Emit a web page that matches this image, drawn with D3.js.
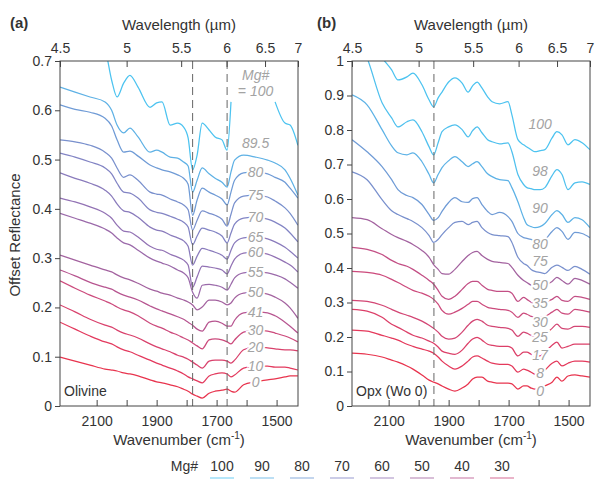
<!DOCTYPE html>
<html>
<head>
<meta charset="utf-8">
<title>Offset reflectance spectra</title>
<script src="https://cdn.jsdelivr.net/npm/d3@7"></script>
<style>
  body { margin: 0; background: #fff; }
  text { font-family: "Liberation Sans", Arial, sans-serif; fill: #333; }
  .axis line { stroke: #444; }
  .axis text { font-size: 14px; fill: #333; }
  .title { font-size: 15px; }
  .curve-label { font-size: 14px; font-style: italic; fill: #a3a3a3; stroke: #fff; stroke-width: 4px; paint-order: stroke; }
</style>
</head>
<body>
<div id="chart"></div>
<script>
// wavenumber grids (cm-1)
const wnOlivine = [2222, 2172, 2122, 2072, 2050, 2032, 2010, 1989, 1962, 1922, 1900, 1882, 1855, 1830, 1810, 1795,
  1780, 1765, 1748, 1725, 1705, 1682, 1665, 1652, 1640, 1610, 1570, 1530, 1505, 1472, 1455, 1429];
const wnOpx = [2222, 2172, 2122, 2090, 2069, 2039, 2019, 1989, 1965, 1950, 1935, 1922, 1900, 1879, 1855, 1835,
  1820, 1805, 1789, 1770, 1755, 1730, 1702, 1689, 1669, 1650, 1639, 1625, 1612, 1595, 1579, 1555, 1539, 1522,
  1502, 1479, 1455, 1429];

// olivine, offset reflectance
const olv100 = [0.80, 0.79, 0.77, 0.725, 0.661, 0.627, 0.655, 0.671, 0.647, 0.606, 0.615, 0.617, 0.570, 0.574, 0.566, 0.544, 0.479, 0.509, 0.574, 0.560, 0.546, 0.540, 0.519, 0.617, null, null, null, null, 0.617, 0.574, 0.570, 0.529];
const olv89 = [0.647, 0.637, 0.627, 0.617, 0.600, 0.570, 0.554, 0.564, 0.546, 0.515, 0.519, 0.515, 0.505, 0.503, 0.495, 0.487, 0.434, 0.458, 0.483, 0.471, 0.462, 0.454, 0.444, 0.475, 0.499, 0.509, 0.505, 0.499, 0.493, 0.479, 0.462, 0.428];
const olv80 = [0.611, 0.602, 0.596, 0.584, 0.568, 0.540, 0.515, 0.517, 0.507, 0.489, 0.483, 0.479, 0.475, 0.469, 0.462, 0.450, 0.387, 0.418, 0.442, 0.434, 0.428, 0.420, 0.408, 0.434, 0.458, 0.473, 0.475, 0.471, 0.464, 0.454, 0.442, 0.422];
const olv75 = [0.540, 0.536, 0.529, 0.515, 0.503, 0.483, 0.464, 0.469, 0.458, 0.434, 0.430, 0.428, 0.420, 0.414, 0.408, 0.398, 0.357, 0.377, 0.396, 0.391, 0.387, 0.379, 0.365, 0.389, 0.412, 0.426, 0.428, 0.424, 0.416, 0.402, 0.391, 0.367];
const olv70 = [0.513, 0.505, 0.495, 0.483, 0.471, 0.452, 0.434, 0.432, 0.422, 0.398, 0.393, 0.391, 0.385, 0.379, 0.373, 0.363, 0.327, 0.345, 0.361, 0.357, 0.353, 0.345, 0.331, 0.351, 0.369, 0.381, 0.383, 0.379, 0.373, 0.361, 0.351, 0.333];
const olv65 = [0.473, 0.462, 0.452, 0.438, 0.426, 0.410, 0.396, 0.393, 0.383, 0.363, 0.357, 0.355, 0.347, 0.341, 0.335, 0.324, 0.286, 0.304, 0.320, 0.316, 0.312, 0.306, 0.298, 0.316, 0.331, 0.341, 0.343, 0.339, 0.333, 0.322, 0.314, 0.300];
const olv60 = [0.422, 0.414, 0.404, 0.391, 0.381, 0.367, 0.355, 0.353, 0.343, 0.324, 0.318, 0.316, 0.308, 0.302, 0.296, 0.286, 0.241, 0.262, 0.284, 0.282, 0.280, 0.276, 0.268, 0.284, 0.298, 0.310, 0.312, 0.308, 0.302, 0.292, 0.286, 0.272];
const olv55 = [0.391, 0.381, 0.371, 0.359, 0.351, 0.341, 0.331, 0.327, 0.316, 0.300, 0.294, 0.290, 0.284, 0.276, 0.270, 0.260, 0.231, 0.219, 0.245, 0.247, 0.245, 0.241, 0.235, 0.247, 0.260, 0.270, 0.272, 0.270, 0.266, 0.258, 0.251, 0.239];
const olv50 = [0.306, 0.296, 0.286, 0.276, 0.272, 0.266, 0.260, 0.256, 0.249, 0.237, 0.233, 0.229, 0.225, 0.219, 0.215, 0.211, 0.205, 0.195, 0.201, 0.215, 0.215, 0.211, 0.205, 0.209, 0.219, 0.229, 0.231, 0.227, 0.221, 0.209, 0.199, 0.178];
const olv41 = [0.276, 0.264, 0.251, 0.241, 0.237, 0.231, 0.225, 0.221, 0.215, 0.203, 0.197, 0.193, 0.187, 0.181, 0.176, 0.170, 0.164, 0.156, 0.152, 0.170, 0.172, 0.168, 0.162, 0.162, 0.174, 0.189, 0.191, 0.189, 0.183, 0.170, 0.162, 0.148];
const olv30 = [0.254, 0.239, 0.225, 0.213, 0.207, 0.201, 0.195, 0.191, 0.183, 0.168, 0.162, 0.158, 0.150, 0.144, 0.138, 0.134, 0.128, 0.122, 0.116, 0.134, 0.136, 0.134, 0.130, 0.126, 0.134, 0.150, 0.154, 0.152, 0.148, 0.142, 0.138, 0.130];
const olv20 = [0.205, 0.191, 0.176, 0.164, 0.160, 0.154, 0.148, 0.144, 0.138, 0.126, 0.120, 0.116, 0.110, 0.103, 0.099, 0.095, 0.089, 0.083, 0.077, 0.091, 0.093, 0.093, 0.091, 0.087, 0.093, 0.114, 0.120, 0.118, 0.116, 0.114, 0.114, 0.112];
const olv10 = [0.170, 0.156, 0.142, 0.130, 0.126, 0.120, 0.114, 0.110, 0.103, 0.093, 0.087, 0.083, 0.077, 0.071, 0.065, 0.059, 0.055, 0.051, 0.047, 0.061, 0.065, 0.067, 0.065, 0.059, 0.063, 0.077, 0.081, 0.081, 0.079, 0.079, 0.077, 0.073];
const olv0 = [0.099, 0.091, 0.083, 0.075, 0.073, 0.071, 0.067, 0.065, 0.061, 0.053, 0.049, 0.047, 0.043, 0.039, 0.034, 0.030, 0.024, 0.020, 0.016, 0.026, 0.030, 0.032, 0.034, 0.030, 0.028, 0.043, 0.049, 0.053, 0.055, 0.059, 0.061, 0.061];

// orthopyroxene (Wo 0), offset reflectance
const opx100 = [1.147, 1.075, 1.009, 0.974, 0.945, 0.954, 0.965, 0.931, 0.887, 0.867, 0.893, 0.910, 0.939, 0.951, 0.936, 0.910, 0.928, 0.939, 0.922, 0.896, 0.882, 0.876, 0.882, 0.844, 0.772, 0.757, 0.751, 0.743, 0.737, 0.740, 0.743, 0.777, 0.795, 0.786, 0.757, 0.772, 0.763, 0.743];
const opx98 = [1.090, 1.009, 0.879, 0.835, 0.809, 0.824, 0.829, 0.795, 0.751, 0.728, 0.763, 0.795, 0.809, 0.815, 0.801, 0.780, 0.798, 0.809, 0.792, 0.772, 0.766, 0.760, 0.763, 0.737, 0.671, 0.642, 0.633, 0.630, 0.627, 0.627, 0.633, 0.668, 0.685, 0.671, 0.627, 0.647, 0.650, 0.642];
const opx90 = [0.902, 0.873, 0.801, 0.754, 0.734, 0.728, 0.734, 0.708, 0.671, 0.647, 0.671, 0.691, 0.711, 0.723, 0.708, 0.694, 0.702, 0.708, 0.694, 0.673, 0.665, 0.656, 0.653, 0.633, 0.592, 0.546, 0.526, 0.520, 0.517, 0.520, 0.529, 0.555, 0.566, 0.555, 0.532, 0.546, 0.540, 0.517];
const opx80 = [0.772, 0.737, 0.694, 0.656, 0.627, 0.610, 0.604, 0.584, 0.555, 0.538, 0.546, 0.564, 0.590, 0.604, 0.592, 0.590, 0.601, 0.604, 0.584, 0.564, 0.555, 0.561, 0.549, 0.535, 0.500, 0.488, 0.486, 0.483, 0.480, 0.480, 0.483, 0.506, 0.517, 0.506, 0.483, 0.503, 0.500, 0.488];
const opx75 = [0.679, 0.656, 0.598, 0.566, 0.555, 0.543, 0.535, 0.517, 0.494, 0.474, 0.483, 0.497, 0.517, 0.532, 0.535, 0.526, 0.532, 0.535, 0.517, 0.503, 0.497, 0.494, 0.491, 0.474, 0.431, 0.413, 0.408, 0.396, 0.390, 0.387, 0.384, 0.402, 0.408, 0.402, 0.393, 0.405, 0.396, 0.382];
const opx50 = [0.546, 0.540, 0.514, 0.497, 0.488, 0.477, 0.468, 0.451, 0.431, 0.410, 0.396, 0.384, 0.382, 0.396, 0.419, 0.436, 0.445, 0.448, 0.436, 0.425, 0.419, 0.416, 0.413, 0.402, 0.379, 0.364, 0.358, 0.350, 0.344, 0.344, 0.350, 0.361, 0.373, 0.364, 0.353, 0.370, 0.364, 0.353];
const opx35 = [0.460, 0.454, 0.439, 0.422, 0.413, 0.405, 0.396, 0.379, 0.364, 0.353, 0.335, 0.318, 0.309, 0.318, 0.338, 0.355, 0.361, 0.361, 0.350, 0.338, 0.335, 0.332, 0.332, 0.327, 0.303, 0.315, 0.309, 0.301, 0.295, 0.295, 0.301, 0.309, 0.318, 0.306, 0.303, 0.318, 0.315, 0.309];
const opx30 = [0.390, 0.387, 0.379, 0.367, 0.358, 0.344, 0.335, 0.327, 0.318, 0.309, 0.295, 0.277, 0.266, 0.272, 0.283, 0.295, 0.303, 0.303, 0.295, 0.286, 0.283, 0.280, 0.277, 0.272, 0.257, 0.269, 0.266, 0.260, 0.257, 0.257, 0.260, 0.272, 0.280, 0.269, 0.266, 0.280, 0.277, 0.272];
const opx25 = [0.306, 0.303, 0.292, 0.280, 0.272, 0.263, 0.257, 0.246, 0.234, 0.225, 0.214, 0.202, 0.194, 0.197, 0.214, 0.234, 0.246, 0.251, 0.246, 0.234, 0.231, 0.228, 0.225, 0.220, 0.202, 0.214, 0.211, 0.205, 0.202, 0.202, 0.208, 0.225, 0.237, 0.225, 0.223, 0.231, 0.231, 0.228];
const opx17 = [0.280, 0.275, 0.257, 0.237, 0.228, 0.214, 0.205, 0.197, 0.188, 0.182, 0.171, 0.159, 0.153, 0.150, 0.162, 0.182, 0.194, 0.199, 0.191, 0.179, 0.176, 0.173, 0.173, 0.168, 0.145, 0.156, 0.156, 0.150, 0.145, 0.145, 0.156, 0.176, 0.185, 0.168, 0.173, 0.179, 0.179, 0.179];
const opx8 = [0.220, 0.217, 0.205, 0.197, 0.191, 0.179, 0.173, 0.165, 0.159, 0.153, 0.142, 0.130, 0.116, 0.107, 0.116, 0.130, 0.142, 0.145, 0.139, 0.130, 0.124, 0.121, 0.121, 0.116, 0.098, 0.107, 0.104, 0.098, 0.092, 0.092, 0.104, 0.124, 0.130, 0.116, 0.124, 0.130, 0.130, 0.127];
const opx0 = [0.153, 0.150, 0.142, 0.133, 0.127, 0.116, 0.107, 0.090, 0.075, 0.069, 0.064, 0.058, 0.049, 0.043, 0.052, 0.064, 0.078, 0.084, 0.084, 0.072, 0.069, 0.066, 0.066, 0.064, 0.049, 0.058, 0.058, 0.052, 0.049, 0.049, 0.058, 0.069, 0.084, 0.072, 0.087, 0.090, 0.087, 0.084];

const mgOlivine = [100, 89.5, 80, 75, 70, 65, 60, 55, 50, 41, 30, 20, 10, 0];
const mgOpx = [100, 98, 90, 80, 75, 50, 35, 30, 25, 17, 8, 0];
const labelsOlivine = ["100", "89.5", "80", "75", "70", "65", "60", "55", "50", "41", "30", "20", "10", "0"];
const labelsOpx = ["100", "98", "90", "80", "75", "50", "35", "30", "25", "17", "8", "0"];

// band positions marked with dashed lines (cm-1)
const dashOlivine = [1780, 1665];
const dashOpx = [1949];

// axis ticks
const wnTicks = [2100, 2000, 1900, 1800, 1700, 1600, 1500];
const wnLabelled = [2100, 1900, 1700, 1500];
const wlTicks = [4.5, 5, 5.5, 6, 6.5, 7];
const yTicksA = [0, 0.1, 0.2, 0.3, 0.4, 0.5, 0.6, 0.7];
const yTicksB = [0, 0.1, 0.2, 0.3, 0.4, 0.5, 0.6, 0.7, 0.8, 0.9, 1];
const legendMg = [100, 90, 80, 70, 60, 50, 40, 30];

var width = 598, height = 485, plotTop = 61, plotBottom = 406;

// hand nudges (px) for labels that sit off their curve
var labelNudge = {a: {"89.5": -14}, b: {"100": -8, "80": 10, "50": 5, "30": 3}};

var mgColor = d3.scaleLinear()
    .domain([0, 10, 20, 30, 40, 50, 60, 70, 80, 90, 100])
    .range(["#e8344e", "#e33a5e", "#d9416c", "#cc4a7c", "#b9548e", "#a3629f", "#9272b4", "#8284c4", "#6f9bd6", "#5db2e6", "#4cc3f0"]);

var svg = d3.select("#chart").append("svg")
    .attr("width", width)
    .attr("height", height);

var olivine = [olv100, olv89, olv80, olv75, olv70, olv65, olv60, olv55, olv50, olv41, olv30, olv20, olv10, olv0]
    .map(function (v, i) { return {mg: mgOlivine[i], label: labelsOlivine[i], values: v}; });
var opx = [opx100, opx98, opx90, opx80, opx75, opx50, opx35, opx30, opx25, opx17, opx8, opx0]
    .map(function (v, i) { return {mg: mgOpx[i], label: labelsOpx[i], values: v}; });

function drawPanel(p) {
    var x = d3.scaleLinear().domain([1e4 / 4.5, 1e4 / 7]).range([p.left, p.right]);
    var y = d3.scaleLinear().domain([0, p.ymax]).range([plotBottom, plotTop]);
    var g = svg.append("g");

    g.append("clipPath").attr("id", "clip-" + p.id)
        .append("rect")
        .attr("x", p.left).attr("y", plotTop)
        .attr("width", p.right - p.left).attr("height", plotBottom - plotTop);

    var line = d3.line()
        .defined(function (d) { return d[1] != null; })
        .x(function (d) { return x(d[0]); })
        .y(function (d) { return y(d[1]); })
        .curve(d3.curveMonotoneX);

    g.append("g")
        .attr("clip-path", "url(#clip-" + p.id + ")")
        .selectAll("path")
        .data(p.series)
        .join("path")
        .attr("d", function (s) { return line(p.wn.map(function (w, i) { return [w, s.values[i]]; })); })
        .attr("fill", "none")
        .attr("stroke", function (s) { return mgColor(s.mg); })
        .attr("stroke-width", 1.25);

    // curve labels
    var nudge = labelNudge[p.id];
    g.append("g").selectAll("text")
        .data(p.series.filter(function (s, i) { return i > 0 || p.id === "b"; }))
        .join("text")
        .attr("class", "curve-label")
        .attr("text-anchor", "middle")
        .attr("dominant-baseline", "central")
        .attr("x", x(p.wn[p.labelIndex]))
        .attr("y", function (s) { return p.labelY(s, y) + (nudge[s.label] || 0); })
        .text(function (s) { return s.label; });

    // dashed band lines
    g.append("g").selectAll("line")
        .data(p.dashes)
        .join("line")
        .attr("x1", function (d) { return x(d); }).attr("x2", function (d) { return x(d); })
        .attr("y1", plotTop).attr("y2", plotBottom)
        .attr("stroke", "#666")
        .attr("stroke-width", 1)
        .attr("stroke-dasharray", "8,5");

    // bottom axis (wavenumber)
    g.append("g")
        .attr("class", "axis")
        .attr("transform", "translate(0," + plotBottom + ")")
        .call(d3.axisBottom(x).tickValues(wnTicks).tickSizeInner(-6).tickSizeOuter(0).tickPadding(10)
            .tickFormat(function (d) { return wnLabelled.indexOf(d) >= 0 ? d : ""; }))
        .call(function (a) { a.select(".domain").remove(); });

    // top axis (wavelength)
    g.append("g")
        .attr("class", "axis")
        .attr("transform", "translate(0," + plotTop + ")")
        .call(d3.axisTop(x).tickValues(wlTicks.map(function (l) { return 1e4 / l; })).tickSizeInner(-6).tickSizeOuter(0).tickPadding(8)
            .tickFormat(function (d, i) { return wlTicks[i]; }))
        .call(function (a) { a.select(".domain").remove(); });

    // left axis
    g.append("g")
        .attr("class", "axis")
        .attr("transform", "translate(" + p.left + ",0)")
        .call(d3.axisLeft(y).tickValues(p.yTicks).tickSizeInner(5).tickSizeOuter(0).tickPadding(3)
            .tickFormat(function (d) { return String(+d.toFixed(1)); }))
        .call(function (a) { a.select(".domain").remove(); });

    g.append("rect")
        .attr("x", p.left).attr("y", plotTop)
        .attr("width", p.right - p.left).attr("height", plotBottom - plotTop)
        .attr("fill", "none").attr("stroke", "#444").attr("stroke-width", 1);

    g.append("text").attr("class", "title").attr("text-anchor", "middle")
        .attr("x", (p.left + p.right) / 2).attr("y", 30).text("Wavelength (µm)");
    g.append("text").attr("class", "title").attr("text-anchor", "middle")
        .attr("x", (p.left + p.right) / 2).attr("y", 445)
        .html("Wavenumber (cm<tspan dy='-6' font-size='10'>-1</tspan><tspan dy='6'>)</tspan>");
    g.append("text").attr("x", p.tagX).attr("y", 28)
        .attr("font-size", 15).attr("font-weight", "bold").text(p.tag);
    g.append("text").attr("x", p.left + 4).attr("y", 396)
        .attr("font-size", 14).text(p.name);

    return {x: x, y: y, g: g};
}

var pa = drawPanel({
    id: "a", left: 60, right: 298, ymax: 0.7, yTicks: yTicksA, wn: wnOlivine, series: olivine,
    dashes: dashOlivine, tag: "(a)", tagX: 10, name: "Olivine", labelIndex: 26,
    labelY: function (s, y) { return y(s.values[26]); }
});

// Mg# = 100 label for the top olivine curve
pa.g.append("text").attr("class", "curve-label").attr("text-anchor", "middle")
    .attr("x", pa.x(wnOlivine[26])).attr("y", pa.y(olv100[28]) - 22).text("Mg#");
pa.g.append("text").attr("class", "curve-label").attr("text-anchor", "middle")
    .attr("x", pa.x(wnOlivine[26])).attr("y", pa.y(olv100[28]) - 6).text("= 100");

drawPanel({
    id: "b", left: 352, right: 590, ymax: 1, yTicks: yTicksB, wn: wnOpx, series: opx,
    dashes: dashOpx, tag: "(b)", tagX: 317, name: "Opx (Wo 0)", labelIndex: 29,
    labelY: function (s, y) { return (y(s.values[22]) + y(s.values[30])) / 2 + 6; }
});

svg.append("text").attr("class", "title").attr("text-anchor", "middle")
    .attr("transform", "translate(20,235) rotate(-90)")
    .text("Offset Reflectance");

// legend
var lx = d3.scalePoint().domain(legendMg).range([222, 502]);
svg.append("text").attr("x", 198).attr("y", 471).attr("text-anchor", "end")
    .attr("font-size", 14).text("Mg#");
var items = svg.append("g").selectAll("g").data(legendMg).join("g");
items.append("text")
    .attr("x", function (d) { return lx(d); }).attr("y", 471)
    .attr("text-anchor", "middle").attr("font-size", 14)
    .text(function (d) { return d; });
items.append("line")
    .attr("x1", function (d) { return lx(d) - 12; }).attr("x2", function (d) { return lx(d) + 12; })
    .attr("y1", 478).attr("y2", 478)
    .attr("stroke", function (d) { return mgColor(d); })
    .attr("stroke-opacity", 0.55)
    .attr("stroke-width", 1.5);
</script>
</body>
</html>
